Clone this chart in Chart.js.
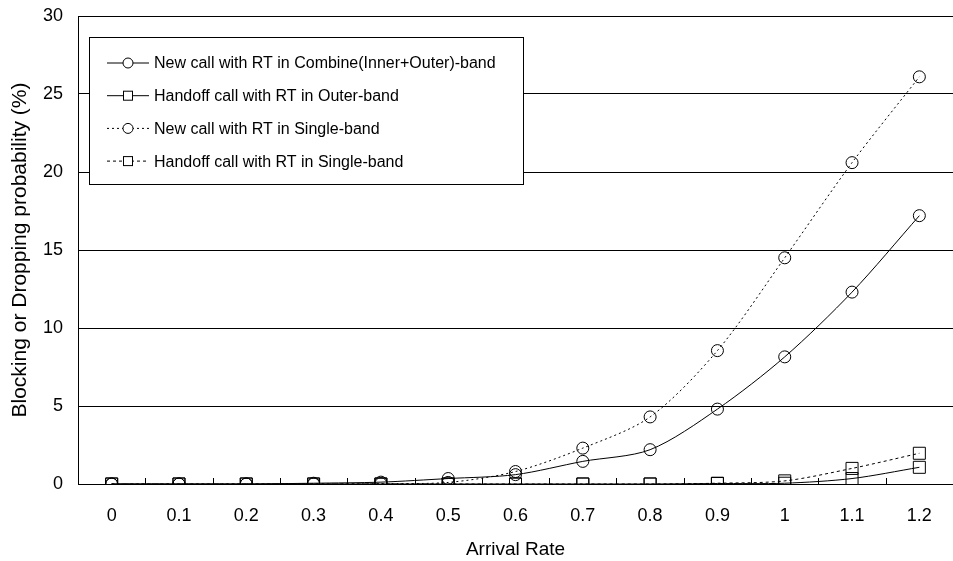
<!DOCTYPE html>
<html>
<head>
<meta charset="utf-8">
<script src="https://cdn.jsdelivr.net/npm/chart.js@4"></script>
<style>
  html, body { margin: 0; padding: 0; background: #fff; }
  #wrap { width: 953px; height: 561px; }
</style>
</head>
<body>
<div id="wrap"><canvas id="chart" width="953" height="561"></canvas></div>
<script>
const arrivalRates = ['0', '0.1', '0.2', '0.3', '0.4', '0.5', '0.6', '0.7', '0.8', '0.9', '1', '1.1', '1.2'];
const newCombine = [0, 0, 0, 0.05, 0.12, 0.35, 0.6, 1.45, 2.2, 4.8, 8.15, 12.3, 17.2];
const handoffOuter = [0, 0, 0, 0, 0, 0, 0, 0, 0, 0.03, 0.05, 0.35, 1.07];
const newSingle = [0, 0, 0, 0, 0.02, 0.1, 0.8, 2.3, 4.3, 8.55, 14.5, 20.6, 26.1];
const handoffSingle = [0, 0, 0, 0, 0, 0, 0, 0, 0, 0.05, 0.2, 1.0, 1.97];
const yTicks = [0, 5, 10, 15, 20, 25, 30];

const FONT = "'Liberation Sans', Arial, sans-serif";

function series(label, data, style, dash) {
    return {
        label: label,
        data: data,
        borderColor: '#000',
        borderWidth: 1,
        borderDash: dash,
        backgroundColor: 'rgba(0,0,0,0)',
        pointStyle: style,
        pointRadius: style === 'rect' ? 8.5 : 6,
        pointBorderColor: '#000',
        pointBackgroundColor: 'rgba(0,0,0,0)',
        pointBorderWidth: 1,
        tension: 0.3,
        fill: false
    };
}

// inward tick marks between categories on the x axis
const innerTicks = {
    id: 'innerTicks',
    afterDatasetsDraw(chart) {
        const x = chart.scales.x;
        const ctx = chart.ctx;
        const step = (x.right - x.left) / arrivalRates.length;
        ctx.save();
        ctx.strokeStyle = '#000';
        ctx.lineWidth = 1;
        ctx.beginPath();
        for (let i = 1; i < arrivalRates.length; i++) {
            const px = Math.round(x.left + step * i) + 0.5;
            ctx.moveTo(px, x.top);
            ctx.lineTo(px, x.top - 6);
        }
        ctx.stroke();
        ctx.restore();
    }
};

// boxed legend inside the plot
const boxLegend = {
    id: 'boxLegend',
    beforeDatasetsDraw(chart) {
        const ctx = chart.ctx;
        const area = chart.chartArea;
        const bx = area.left + 11, by = area.top + 21, bw = 434, bh = 147;
        ctx.save();
        ctx.fillStyle = '#fff';
        ctx.fillRect(bx, by, bw, bh);
        ctx.strokeStyle = '#000';
        ctx.lineWidth = 1;
        ctx.strokeRect(bx + 0.5, by + 0.5, bw, bh);
        ctx.font = '16px ' + FONT;
        ctx.textBaseline = 'middle';
        ctx.fillStyle = '#000';
        chart.data.datasets.forEach((ds, i) => {
            const y = by + 26 + i * 32.7;
            ctx.beginPath();
            ctx.setLineDash(ds.borderDash || []);
            ctx.moveTo(bx + 18, y);
            ctx.lineTo(bx + 60, y);
            ctx.stroke();
            ctx.setLineDash([]);
            ctx.beginPath();
            if (ds.pointStyle === 'rect') {
                ctx.fillStyle = '#fff';
                ctx.fillRect(bx + 34, y - 5, 10, 10);
                ctx.strokeRect(bx + 34.5, y - 4.5, 9, 9);
            } else {
                ctx.arc(bx + 39, y, 5, 0, Math.PI * 2);
                ctx.fillStyle = '#fff';
                ctx.fill();
                ctx.stroke();
            }
            ctx.fillStyle = '#000';
            ctx.fillText(ds.label, bx + 65, y + 1);
        });
        ctx.restore();
    }
};

new Chart(document.getElementById('chart'), {
    type: 'line',
    data: {
        labels: arrivalRates,
        datasets: [
            series('New call with RT in Combine(Inner+Outer)-band', newCombine, 'circle', []),
            series('Handoff call with RT in Outer-band', handoffOuter, 'rect', []),
            series('New call with RT in Single-band', newSingle, 'circle', [2, 3]),
            series('Handoff call with RT in Single-band', handoffSingle, 'rect', [3, 3])
        ]
    },
    options: {
        responsive: false,
        animation: false,
        layout: { autoPadding: false, padding: { top: 16, right: 0, left: 0, bottom: 0 } },
        plugins: {
            legend: { display: false },
            tooltip: { enabled: false }
        },
        scales: {
            x: {
                offset: true,
                grid: { display: false, drawTicks: false },
                border: { display: false },
                ticks: {
                    color: '#000',
                    font: { family: FONT, size: 18 },
                    padding: 21,
                    maxRotation: 0
                },
                title: {
                    display: true,
                    text: 'Arrival Rate',
                    color: '#000',
                    font: { family: FONT, size: 19 },
                    padding: { top: 4, bottom: 0 }
                },
                afterFit(scale) {
                    scale.height = 77;
                    scale.paddingLeft = 0;
                    scale.paddingRight = 0;
                }
            },
            y: {
                min: 0,
                max: 30,
                afterBuildTicks(scale) { scale.ticks = yTicks.map(v => ({ value: v })); },
                grid: { color: '#000', lineWidth: 1, drawTicks: false },
                border: { display: true, color: '#000', width: 1 },
                ticks: {
                    color: '#000',
                    font: { family: FONT, size: 18 },
                    padding: 15
                },
                title: {
                    display: true,
                    text: 'Blocking or Dropping probability (%)',
                    color: '#000',
                    font: { family: FONT, size: 21 },
                    padding: { top: 8, bottom: 8 }
                },
                afterFit(scale) {
                    scale.width = 78;
                    scale.paddingTop = 0;
                    scale.paddingBottom = 0;
                }
            }
        }
    },
    plugins: [boxLegend, innerTicks]
});
</script>
</body>
</html>
